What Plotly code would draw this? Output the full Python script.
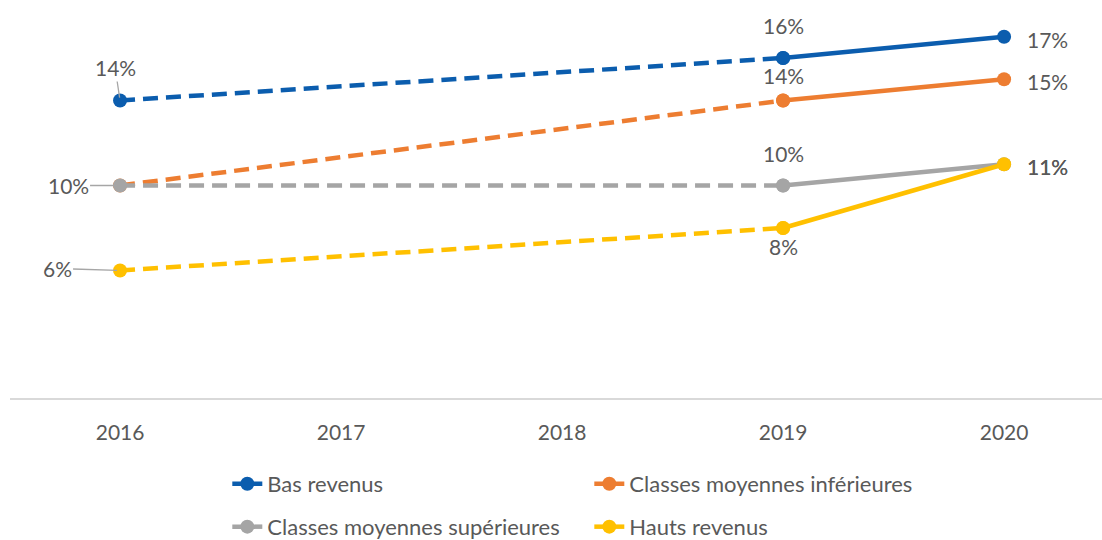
import plotly.graph_objects as go

years = [2016, 2019, 2020]
series_names = ["Bas revenus", "Classes moyennes inférieures",
                "Classes moyennes supérieures", "Hauts revenus"]
bas_revenus = [14, 16, 17]
moyennes_inf = [10, 14, 15]
moyennes_sup = [10, 10, 11]
hauts_revenus = [6, 8, 11]
tick_years = [2016, 2017, 2018, 2019, 2020]
tick_labels = ["2016", "2017", "2018", "2019", "2020"]

values = [bas_revenus, moyennes_inf, moyennes_sup, hauts_revenus]
colors = ["#0B5DAE", "#ED7D31", "#A5A5A5", "#FFC000"]
legend_ids = ["legend", "legend", "legend2", "legend2"]

FONT = "Lato"
TXT = "#595959"
FS = 21

fig = go.Figure()

for name, vals, col, lg in zip(series_names, values, colors, legend_ids):
    # dashed part 2016 -> 2019
    fig.add_trace(go.Scatter(
        x=years[:2], y=vals[:2], mode="lines+markers",
        line=dict(color=col, width=4.5, dash="15px,8px"),
        marker=dict(size=14, color=col),
        showlegend=False, hoverinfo="skip"))
    # solid part 2019 -> 2020
    fig.add_trace(go.Scatter(
        x=years[1:], y=vals[1:], mode="lines+markers",
        line=dict(color=col, width=4.5),
        marker=dict(size=14, color=col),
        name=name, legend=lg, showlegend=True))

# label offsets (style only): per series, per year (ax, ay, arrow)
label_style = {
    0: {2016: (-5, -33, True), 2019: (0, -33, False), 2020: (43, 3, False)},
    1: {2016: None, 2019: (0, -25, False), 2020: (43, 2, False)},
    2: {2016: (-52, 0, True), 2019: (0, -32, False), 2020: (43, 2, False)},
    3: {2016: (-63, -2, True), 2019: (0, 18, False), 2020: (43, 2, False)},
}

annotations = []
for i, vals in enumerate(values):
    for yr, v in zip(years, vals):
        st = label_style[i][yr]
        if st is None:
            continue
        ax, ay, arrow = st
        txt = f"{v}%"
        if arrow:
            annotations.append(dict(
                x=yr, y=v, xref="x", yref="y", text=txt,
                showarrow=True, ax=ax, ay=ay, arrowhead=0,
                arrowwidth=1.3, arrowcolor="#A6A6A6", standoff=3,
                font=dict(family=FONT, size=FS, color=TXT)))
        else:
            annotations.append(dict(
                x=yr, y=v, xref="x", yref="y", text=txt,
                showarrow=False, xshift=ax, yshift=-ay,
                font=dict(family=FONT, size=FS, color=TXT)))

fig.update_layout(
    width=1102, height=540,
    margin=dict(l=10, r=0, t=10, b=142, autoexpand=False),
    paper_bgcolor="white", plot_bgcolor="white",
    font=dict(family=FONT, size=FS, color=TXT),
    showlegend=True,
    xaxis=dict(range=[2015.502, 2020.443], tickmode="array",
               tickvals=tick_years, ticktext=tick_labels,
               showgrid=False, zeroline=False, showline=True,
               linecolor="#D9D9D9", linewidth=1.5, ticks="",
               ticklabelstandoff=15,
               tickfont=dict(family=FONT, size=FS, color=TXT)),
    yaxis=dict(range=[0, 18.26], visible=False, showgrid=False,
               zeroline=False),
    legend=dict(orientation="h", x=0.199, xanchor="left", y=-0.1675,
                yanchor="top", entrywidth=317, itemwidth=30,
                font=dict(family=FONT, size=22, color=TXT),
                bgcolor="rgba(0,0,0,0)"),
    legend2=dict(orientation="h", x=0.199, xanchor="left", y=-0.278,
                 yanchor="top", entrywidth=317, itemwidth=30,
                 font=dict(family=FONT, size=22, color=TXT),
                 bgcolor="rgba(0,0,0,0)"),
    annotations=annotations,
)

fig.write_html("out.html", config={"displayModeBar": False},
               post_script="document.body.style.margin='0';document.body.style.padding='0';")
